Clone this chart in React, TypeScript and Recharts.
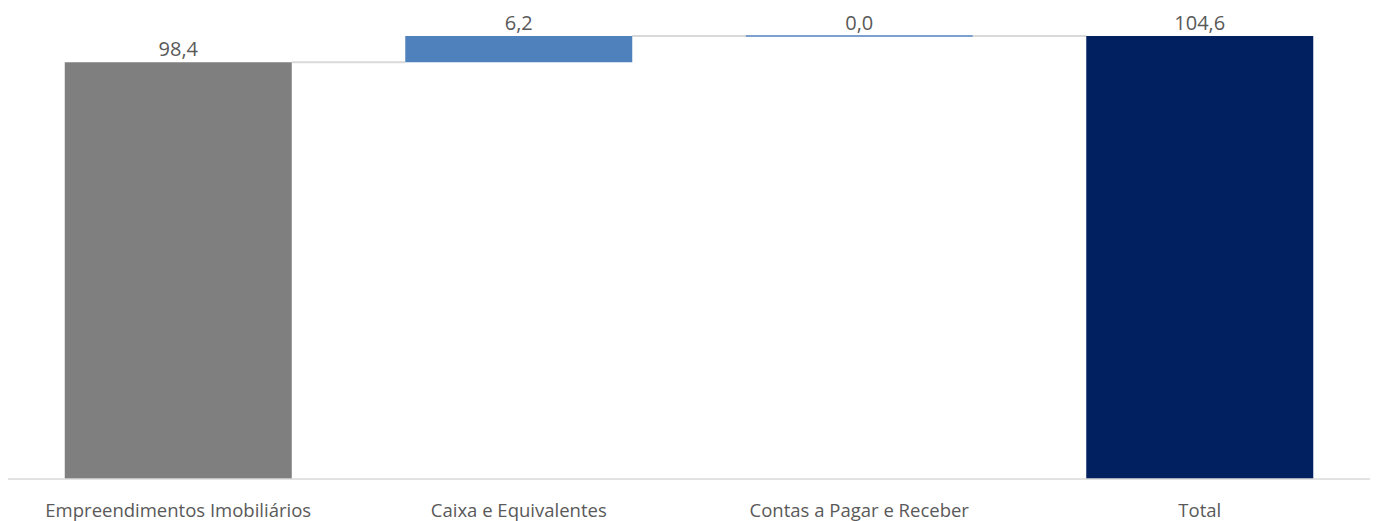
import { BarChart, Bar, XAxis, YAxis, LabelList } from "recharts";

const categories = [
  "Empreendimentos Imobiliários",
  "Caixa e Equivalentes",
  "Contas a Pagar e Receber",
  "Total",
];
const values = [98.4, 6.2, 0.0, 104.6];
const isTotal = [false, false, false, true];
const barColors = ["#7F7F7F", "#4F81BD", "#4F81BD", "#002060"];

// waterfall rows: invisible base + visible delta
let running = 0;
const data = categories.map((name, i) => {
  const base = isTotal[i] ? 0 : running;
  if (!isTotal[i]) running += values[i];
  return { name, base, delta: values[i], color: barColors[i], last: i === categories.length - 1 };
});

const fmt = (v: number) => v.toFixed(1).replace(".", ",");

function StepBar(props: any) {
  const { x, y, width, height, payload } = props;
  // gap between bars is half a bar width (barCategoryGap 16.67% each side)
  const gap = width / 2;
  return (
    <g>
      {!payload.last && (
        <line x1={x + width} x2={x + width + gap} y1={y} y2={y} stroke="#D9D9D9" strokeWidth={2} />
      )}
      {height < 1 ? (
        <line x1={x} x2={x + width} y1={y} y2={y} stroke={payload.color} strokeWidth={1.5} />
      ) : (
        <rect x={x} y={y} width={width} height={height} fill={payload.color} />
      )}
    </g>
  );
}

export default function App() {
  return (
    <div style={{ width: 1376, height: 521 }}>
      <style>{`body{margin:0}`}</style>
      <BarChart
        width={1376}
        height={521}
        data={data}
        margin={{ top: 36, right: 6, left: 8, bottom: 0 }}
        barCategoryGap="16.67%"
      >
        <XAxis
          dataKey="name"
          height={42}
          tickLine={false}
          axisLine={{ stroke: "#D9D9D9", strokeWidth: 1.5 }}
          tick={{ fill: "#595959", fontSize: 18.5, fontFamily: "Open Sans" }}
          tickMargin={19}
          interval={0}
        />
        <YAxis hide domain={[0, 104.6]} />
        <Bar dataKey="base" stackId="w" fill="transparent" isAnimationActive={false} />
        <Bar dataKey="delta" stackId="w" shape={<StepBar />} isAnimationActive={false}>
          <LabelList
            dataKey="delta"
            position="top"
            offset={6}
            formatter={(v: any) => fmt(Number(v))}
            style={{ fill: "#595959", fontSize: 20, fontFamily: "Open Sans" }}
          />
        </Bar>
      </BarChart>
    </div>
  );
}
